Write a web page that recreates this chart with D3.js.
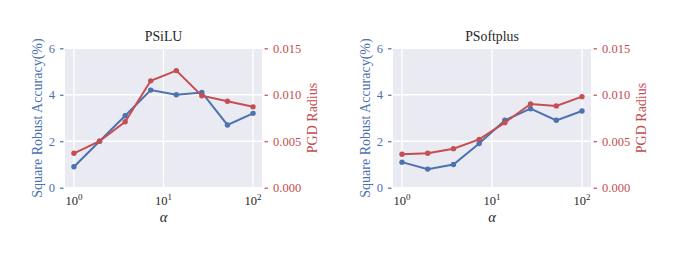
<!DOCTYPE html>
<html><head><meta charset="utf-8">
<script src="https://cdn.jsdelivr.net/npm/d3@7"></script>
<style>body{margin:0;background:#fff}svg{display:block}text{font-family:"Liberation Serif","Times New Roman",serif;font-weight:normal}</style>
</head><body><svg id="c" width="685" height="257" font-family="Liberation Serif, Times New Roman, serif"></svg>
<script>
const alphas = [1, 1.93, 3.73, 7.20, 13.9, 26.8, 51.8, 100];
const titles = ["PSiLU", "PSoftplus"];
const accPSiLU = [0.9, 2.0, 3.1, 4.2, 4.0, 4.1, 2.7, 3.2];
const pgdPSiLU = [0.0037, 0.0050, 0.0071, 0.0115, 0.0126, 0.0099, 0.0093, 0.0087];
const accPSoftplus = [1.1, 0.8, 1.0, 1.9, 2.9, 3.4, 2.9, 3.3];
const pgdPSoftplus = [0.0036, 0.0037, 0.0042, 0.0052, 0.0070, 0.0090, 0.0088, 0.0098];
const accTicks = [0, 2, 4, 6];
const pgdTicks = [0, 0.005, 0.010, 0.015];
const xTicks = [1, 10, 100];

const BLUE = "#4C72B0", RED = "#C44E52", BG = "#EAEAF2";
const SERIF = "Liberation Serif, Times New Roman, serif";
const svg = d3.select("#c");
const panels = [
  {title: titles[0], acc: accPSiLU, pgd: pgdPSiLU, left: 65, right: 262},
  {title: titles[1], acc: accPSoftplus, pgd: pgdPSoftplus, left: 393, right: 591}
];
const TOPY = 48.3, BOTY = 187.7;
const FS = 12.5;

panels.forEach(p => {
  const x = d3.scaleLog().domain([Math.pow(10, -0.1), Math.pow(10, 2.1)]).range([p.left, p.right]);
  const yA = d3.scaleLinear().domain([0, 6]).range([BOTY, TOPY]);
  const yP = d3.scaleLinear().domain([0, 0.015]).range([BOTY, TOPY]);
  const g = svg.append("g");
  g.append("rect").attr("x", p.left).attr("y", TOPY).attr("width", p.right - p.left).attr("height", BOTY - TOPY).attr("fill", BG);
  g.selectAll(".gy").data(accTicks).join("line").attr("x1", p.left).attr("x2", p.right)
    .attr("y1", d => yA(d)).attr("y2", d => yA(d)).attr("stroke", "#fff").attr("stroke-width", 1.3);
  g.selectAll(".gx").data(xTicks).join("line").attr("y1", TOPY).attr("y2", BOTY)
    .attr("x1", d => x(d)).attr("x2", d => x(d)).attr("stroke", "#fff").attr("stroke-width", 1.3);
  const la = d3.axisLeft(yA).tickValues(accTicks).tickFormat(d3.format("d")).tickSize(3.5).tickPadding(5);
  const lg = g.append("g").attr("transform", `translate(${p.left - 1.5},0)`).call(la).attr("font-family", SERIF);
  lg.select(".domain").remove();
  lg.selectAll("line").attr("stroke", BLUE).attr("stroke-width", 1.2);
  lg.selectAll("text").attr("fill", BLUE).attr("font-size", FS).attr("font-family", SERIF);
  const ra = d3.axisRight(yP).tickValues(pgdTicks).tickFormat(d3.format(".3f")).tickSize(3.5).tickPadding(5);
  const rg = g.append("g").attr("transform", `translate(${p.right + 2.5},0)`).call(ra).attr("font-family", SERIF);
  rg.select(".domain").remove();
  rg.selectAll("line").attr("stroke", RED).attr("stroke-width", 1.2);
  rg.selectAll("text").attr("fill", RED).attr("font-size", FS).attr("font-family", SERIF);
  const xt = g.selectAll(".xt").data(xTicks).join("text")
    .attr("x", d => x(d)).attr("y", 205).attr("text-anchor", "middle").attr("font-size", FS).attr("fill", "#262626");
  xt.append("tspan").text("10");
  xt.append("tspan").attr("dy", -5).attr("font-size", FS * 0.72).text(d => Math.round(Math.log10(d)));
  const cx = (p.left + p.right) / 2;
  g.append("text").attr("x", cx).attr("y", 41).attr("text-anchor", "middle").attr("font-size", 13.8).attr("fill", "#262626").text(p.title);
  g.append("text").attr("x", cx).attr("y", 222).attr("text-anchor", "middle").attr("font-size", 14.5).attr("font-style", "italic").attr("fill", "#262626").text("α");
  g.append("text").attr("transform", `translate(${p.left - 23.5},${(TOPY + BOTY) / 2}) rotate(-90)`)
    .attr("text-anchor", "middle").attr("font-size", 14).attr("fill", BLUE).text("Square Robust Accuracy(%)");
  g.append("text").attr("transform", `translate(${p.right + 55},${(TOPY + BOTY) / 2}) rotate(-90)`)
    .attr("text-anchor", "middle").attr("font-size", 14).attr("fill", RED).text("PGD Radius");
  const lineA = d3.line().x((d, i) => x(alphas[i])).y(d => yA(d));
  const lineP = d3.line().x((d, i) => x(alphas[i])).y(d => yP(d));
  g.append("path").attr("d", lineA(p.acc)).attr("fill", "none").attr("stroke", BLUE).attr("stroke-width", 2);
  g.selectAll(".pa").data(p.acc).join("circle").attr("cx", (d, i) => x(alphas[i])).attr("cy", d => yA(d)).attr("r", 2.7).attr("fill", BLUE);
  g.append("path").attr("d", lineP(p.pgd)).attr("fill", "none").attr("stroke", RED).attr("stroke-width", 2);
  g.selectAll(".pp").data(p.pgd).join("circle").attr("cx", (d, i) => x(alphas[i])).attr("cy", d => yP(d)).attr("r", 2.7).attr("fill", RED);
});
</script></body></html>
